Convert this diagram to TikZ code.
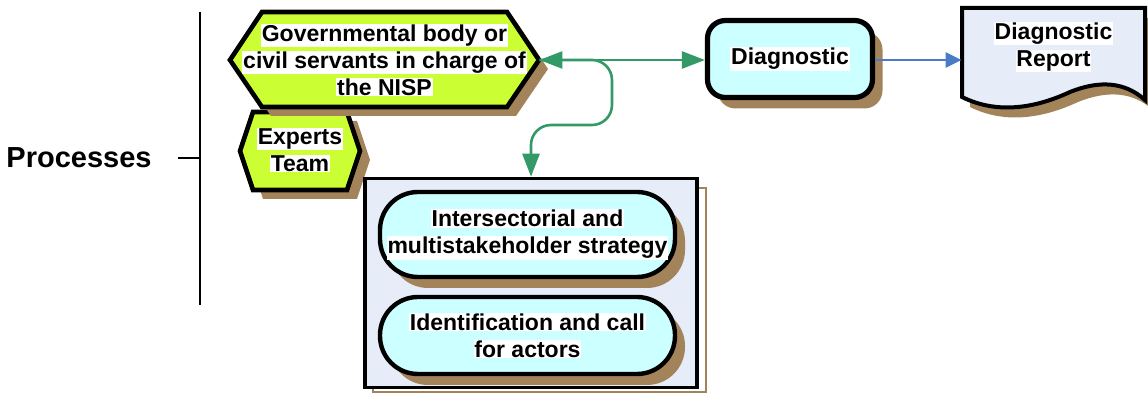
\documentclass[tikz,border=0pt]{standalone}
\usepackage{fontspec}
\setmainfont{Liberation Sans}
\usetikzlibrary{arrows.meta,shadows}

\definecolor{limefill}{HTML}{CCFF33}
\definecolor{shadowtan}{HTML}{A3845A}
\definecolor{cyanfill}{HTML}{CCFFFF}
\definecolor{paperfill}{HTML}{E6ECF8}
\definecolor{flowgreen}{HTML}{339966}
\definecolor{flowblue}{HTML}{4A7CC6}

% white band behind each line of text
\newcommand\wline[1]{{\setlength\fboxsep{0.4pt}\colorbox{white}{#1}}}

\begin{document}
\begin{tikzpicture}[x=0.5pt,y=-0.5pt,
  every node/.style={font=\bfseries\fontsize{11.5}{13.5}\selectfont, align=center, inner sep=0pt},
  tanshadow/.style={drop shadow={shadow xshift=5pt, shadow yshift=-5.5pt, fill=shadowtan, opacity=1}},
  hexa/.style={draw=black, line width=2.3pt, fill=limefill},
  procbox/.style={draw=black, line width=2.6pt, fill=cyanfill, rounded corners=9pt,
    minimum width=82.5pt, minimum height=38.5pt, tanshadow},
  pill/.style={draw=black, line width=2.2pt, fill=cyanfill, rounded corners=19pt,
    minimum width=147.5pt, tanshadow},
  greenflow/.style={draw=flowgreen, line width=1.3pt},
  blueflow/.style={draw=flowblue, line width=1.2pt}
]
\useasboundingbox (0,0) rectangle (1148,394);

\newcommand\govhex{(230,60) -- (262,12) -- (507,12) -- (539,60) -- (507,107) -- (262,107) -- cycle}
\newcommand\experthex{(240,151) -- (253,112) -- (347,112) -- (360,151) -- (347,190) -- (253,190) -- cycle}
\newcommand\reportpath{(962,8) -- (1145,8) -- (1145,100)
  .. controls (1125,82) and (1100,80) .. (1070,92)
  .. controls (1040,106) and (1000,116) .. (962,97) -- cycle}

%% left bracket
\node[font=\bfseries\fontsize{14.5}{17}\selectfont] (processes) at (79,158) {Processes};
\coordinate (tick) at (178,158);
\draw[line width=0.9pt] (tick) -- ++(22,0);
\draw[line width=0.9pt] (200,12) -- (200,305);

%% actors
\fill[shadowtan, shift={(10,9)}] \experthex;
\draw[hexa] \experthex;
\node (experts) at (300,150) {\wline{Experts}\\ \wline{Team}};

\fill[shadowtan, shift={(9,9)}] \govhex;
\draw[hexa] \govhex;
\node[minimum width=154.5pt, minimum height=47.5pt] (gov) at (384.5,60)
  {\wline{Governmental body or}\\ \wline{civil servants in charge of}\\ \wline{the NISP}};

%% diagnostic and report
\node[procbox] (diag) at (790,59) {\wline{Diagnostic}};

\fill[shadowtan, shift={(8,10)}] \reportpath;
\draw[draw=black, line width=2pt, fill=paperfill] \reportpath;
\node[minimum width=91.5pt] (report) at (1053.5,47) {\wline{Diagnostic}\\ \wline{Report}};

%% phase box
\draw[shadowtan, line width=0.6pt] (373,188) rectangle (706,392);
\node[draw=black, line width=1.8pt, fill=paperfill, minimum width=166pt, minimum height=104.5pt]
  (phase) at (531,283) {};
\node[pill, minimum height=42.5pt] (strategy) at (527.5,234.5)
  {\wline{Intersectorial and}\\ \wline{multistakeholder strategy}};
\node[pill, minimum height=38.5pt] (actors) at (527.5,335.5)
  {\wline{Identification and call}\\ \wline{for actors}};

%% connectors
\draw[greenflow, {Triangle[length=11.5pt,width=8.5pt]}-{Triangle[length=11.5pt,width=8.5pt]}]
  (gov.east) -- (diag.west |- gov.east);
\draw[greenflow, rounded corners=10pt, -{Triangle[length=11.5pt,width=8.5pt]}]
  (gov.east) -| (612,125) -| (phase.north);
\draw[blueflow, -{Triangle[length=8pt,width=7.5pt]}] (diag.east |- gov.east) -- (gov.east -| report.west);

\end{tikzpicture}
\end{document}
